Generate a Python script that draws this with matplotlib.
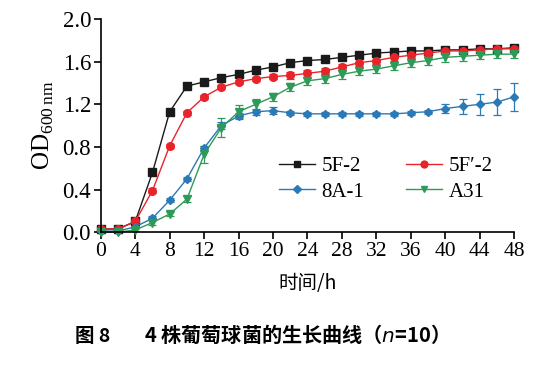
import matplotlib
matplotlib.use("Agg")
import matplotlib.pyplot as plt
from matplotlib.lines import Line2D

time_h = list(range(0, 49, 2))
od_5f2 = [0.03, 0.03, 0.10, 0.56, 1.13, 1.37, 1.41, 1.45, 1.48, 1.52, 1.55, 1.59, 1.61,
          1.62, 1.64, 1.66, 1.68, 1.69, 1.70, 1.70, 1.71, 1.71, 1.72, 1.72, 1.73]
err_5f2 = [0.01] * 25
od_5fp2 = [0.03, 0.03, 0.10, 0.39, 0.81, 1.12, 1.27, 1.36, 1.41, 1.44, 1.46, 1.47, 1.49,
           1.51, 1.55, 1.59, 1.61, 1.64, 1.66, 1.68, 1.70, 1.70, 1.71, 1.72, 1.72]
err_5fp2 = [0.01, 0.01, 0.01, 0.02, 0.02, 0.02, 0.02, 0.02, 0.02, 0.02, 0.02, 0.03, 0.03,
            0.03, 0.03, 0.03, 0.03, 0.03, 0.03, 0.03, 0.03, 0.03, 0.03, 0.03, 0.03]
od_8a1 = [0.01, 0.01, 0.05, 0.13, 0.30, 0.50, 0.79, 1.00, 1.09, 1.13, 1.14, 1.12, 1.11,
          1.11, 1.11, 1.11, 1.11, 1.11, 1.12, 1.13, 1.16, 1.18, 1.20, 1.22, 1.27]
err_8a1 = [0.01, 0.01, 0.01, 0.02, 0.02, 0.02, 0.02, 0.03, 0.03, 0.03, 0.03, 0.02, 0.02,
           0.02, 0.02, 0.02, 0.02, 0.02, 0.02, 0.02, 0.04, 0.07, 0.10, 0.12, 0.13]
od_a31 = [0.00, 0.00, 0.02, 0.09, 0.17, 0.31, 0.73, 0.98, 1.13, 1.20, 1.27, 1.36, 1.42,
          1.44, 1.48, 1.51, 1.53, 1.56, 1.59, 1.61, 1.64, 1.65, 1.66, 1.67, 1.67]
err_a31 = [0.01, 0.01, 0.01, 0.02, 0.02, 0.03, 0.08, 0.09, 0.06, 0.05, 0.04, 0.04, 0.04,
           0.04, 0.04, 0.04, 0.04, 0.04, 0.04, 0.04, 0.04, 0.04, 0.04, 0.04, 0.04]

labels = ["5F-2", "5F\u2032-2", "8A-1", "A31"]
x_ticks = list(range(0, 49, 4))
y_ticks = [0.0, 0.4, 0.8, 1.2, 1.6, 2.0]

serif = ["Liberation Serif", "DejaVu Serif"]
cjk = ["Noto Sans CJK SC", "Liberation Serif", "DejaVu Sans"]

fig = plt.figure(figsize=(5.39, 3.65), dpi=100)
ax = fig.add_axes([0.187, 0.364, 0.767, 0.584])

series = [
    (od_5f2, err_5f2, "#1a1a1a", "s", 5.5),
    (od_5fp2, err_5fp2, "#e8232a", "o", 5.5),
    (od_8a1, err_8a1, "#2b79b5", "D", 4.0),
    (od_a31, err_a31, "#2e9a57", "v", 5.5),
]
handles = []
for (y, e, c, m, ms), lab in zip(series, labels):
    ax.errorbar(time_h, y, yerr=e, color=c, marker=m, markersize=ms, lw=1.0,
                elinewidth=0.9, capsize=3, capthick=0.9, clip_on=False)
    handles.append(Line2D([], [], color=c, marker=m, markersize=ms * 0.9, lw=1.0, label=lab))

ax.set_xlim(0, 48)
ax.set_ylim(0, 2.0)
ax.set_xticks(x_ticks)
ax.set_yticks(y_ticks)
ax.set_yticklabels([f"{v:.1f}" for v in y_ticks])
for s in ["top", "right"]:
    ax.spines[s].set_visible(False)
for s in ["left", "bottom"]:
    ax.spines[s].set_linewidth(1.2)
ax.tick_params(direction="out", length=5, width=1.2, pad=2)
ax.tick_params(axis="x", labelsize=15.5)
ax.tick_params(axis="y", labelsize=16.5)
for t in ax.get_xticklabels() + ax.get_yticklabels():
    t.set_fontfamily(serif)

ax.set_ylabel(r"OD$_{\mathregular{600\,nm}}$", fontsize=18, family=serif, labelpad=5)
ax.set_xlabel("时间/h", fontsize=14, family=cjk, labelpad=9)

order = [0, 2, 1, 3]
ax.legend([handles[i] for i in order], [labels[i] for i in order], ncol=2,
          loc="upper left", bbox_to_anchor=(0.41, 0.395), frameon=False,
          prop={"family": serif, "size": 15}, handlelength=1.75, handletextpad=0.3,
          columnspacing=2.0, labelspacing=0.3, borderaxespad=0)

fig.text(0.14, 0.063, "图 8", ha="left", fontsize=14, fontweight="bold", family=cjk)
fig.text(0.268, 0.063, "4 株葡萄球菌的生长曲线（$\\mathit{n}$=10）", ha="left",
         fontsize=14.5, fontweight="bold", family=cjk)

fig.savefig("out.png", dpi=100)
